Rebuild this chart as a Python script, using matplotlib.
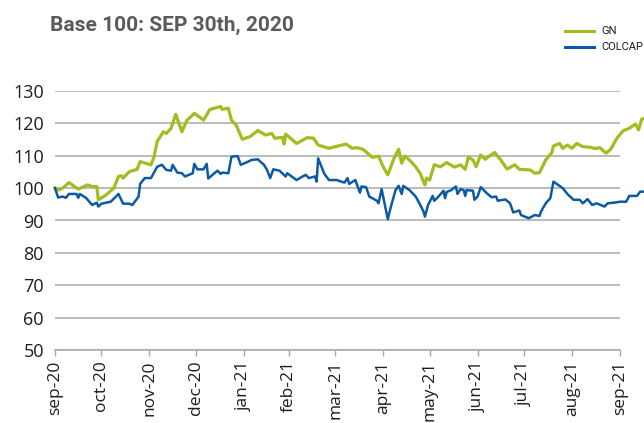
import numpy as np
import pandas as pd
import matplotlib
matplotlib.use("Agg")
import matplotlib.pyplot as plt
from matplotlib import font_manager
from matplotlib.lines import Line2D

# ---------------- data ----------------
base_date = "2020-09-30"

gn_days = [0, 2, 5, 9, 15, 21, 24, 27, 28, 33, 38, 41, 43, 44, 48, 53, 55, 57, 62, 64,
           66, 70, 72, 75, 78, 82, 85, 90, 96, 100, 107, 108, 112, 114, 117, 121, 126,
           131, 136, 140, 142, 147, 148, 149, 156, 158, 163, 167, 170, 177, 181, 188,
           192, 195, 199, 205, 209, 212, 215, 219, 222, 224, 226, 229, 233, 236, 238,
           239, 240, 242, 245, 249, 253, 258, 262, 265, 267, 270, 272, 275, 278, 280,
           284, 288, 292, 297, 300, 307, 310, 313, 317, 321, 322, 326, 328, 331, 334,
           337, 341, 346, 349, 352, 356, 359, 363, 367, 371, 375, 377, 379, 381]
gn_vals = [100.0, 99.4, 100.0, 101.7, 99.7, 101.0, 100.5, 100.5, 96.4, 97.9, 100.0, 103.6,
           103.8, 103.1, 105.1, 105.8, 108.2, 107.9, 107.2, 109.7, 114.4, 117.4, 116.9,
           118.5, 122.8, 117.4, 120.8, 123.1, 121.0, 124.3, 125.2, 124.3, 124.7, 121.0,
           119.5, 115.1, 115.9, 117.8, 116.4, 116.9, 115.4, 115.7, 113.6, 116.7, 113.8,
           114.3, 115.6, 115.4, 113.3, 112.3, 112.8, 113.6, 112.3, 112.5, 112.0, 109.5,
           109.9, 106.6, 104.1, 109.2, 112.0, 107.7, 109.9, 108.7, 106.6, 104.5, 102.0,
           101.0, 103.1, 102.5, 107.2, 106.6, 107.9, 106.5, 107.2, 105.8, 109.5, 108.7,
           106.6, 110.2, 108.9, 109.7, 111.0, 108.7, 105.9, 107.2, 105.8, 105.6, 104.6,
           104.8, 108.7, 111.0, 113.0, 113.8, 112.3, 113.3, 112.3, 113.8, 112.8, 112.6,
           112.2, 112.5, 110.8, 112.0, 115.4, 117.7, 118.5, 119.8, 118.0, 121.3, 121.6]

colcap_days = [0, 2, 5, 7, 9, 14, 15, 16, 20, 24, 27, 28, 30, 36, 41, 44, 48, 50, 54, 55,
               58, 62, 66, 69, 72, 75, 76, 79, 82, 84, 89, 90, 92, 96, 98, 99, 102, 105,
               107, 108, 112, 114, 118, 120, 123, 127, 131, 135, 137, 139, 141, 145, 149,
               150, 156, 160, 162, 164, 168, 169, 170, 174, 177, 182, 187, 189, 190, 194,
               197, 198, 201, 203, 208, 209, 211, 215, 217, 220, 222, 224, 225, 229, 233,
               236, 238, 239, 241, 244, 245, 247, 251, 252, 253, 256, 259, 260, 262, 264,
               265, 266, 270, 271, 273, 275, 279, 282, 285, 286, 291, 294, 296, 298, 300,
               301, 306, 310, 313, 314, 317, 320, 322, 325, 328, 331, 335, 339, 341, 344,
               347, 350, 355, 357, 361, 365, 369, 371, 376, 378, 381]
colcap_vals = [100.0, 97.1, 97.4, 97.0, 98.2, 98.2, 97.0, 98.2, 97.0, 94.8, 95.5, 94.3,
               95.2, 95.8, 98.2, 95.2, 95.2, 94.8, 97.4, 101.3, 103.1, 103.1, 106.6, 107.2,
               105.6, 105.4, 107.2, 104.8, 104.6, 103.6, 104.6, 107.5, 105.8, 105.8, 107.5,
               103.0, 104.2, 105.4, 104.4, 104.8, 104.6, 109.7, 109.9, 107.2, 107.8, 108.7,
               108.9, 107.2, 105.6, 103.1, 105.8, 105.4, 103.6, 104.6, 102.5, 103.6, 104.1,
               103.1, 103.6, 102.0, 109.2, 104.4, 102.5, 102.5, 101.7, 103.1, 101.3, 102.5,
               98.6, 100.5, 100.3, 97.4, 96.1, 95.3, 99.7, 90.4, 94.3, 99.4, 100.7, 98.2,
               100.7, 99.4, 97.4, 94.8, 92.8, 91.2, 94.8, 97.6, 96.1, 97.0, 99.2, 96.9,
               98.8, 99.4, 100.5, 98.2, 99.7, 99.4, 97.6, 99.4, 99.2, 96.4, 97.4, 100.3,
               98.4, 97.2, 97.4, 96.1, 96.5, 95.3, 92.5, 92.8, 93.1, 91.7, 90.7, 91.7, 91.4,
               92.8, 95.3, 96.9, 102.0, 101.0, 100.0, 98.2, 96.4, 96.4, 95.3, 96.6, 94.8,
               95.3, 94.3, 95.3, 95.5, 95.8, 95.8, 97.6, 97.6, 98.9, 98.9]

tick_dates = ["2020-09-30", "2020-10-30", "2020-11-30", "2020-12-30", "2021-01-30",
              "2021-02-28", "2021-03-30", "2021-04-30", "2021-05-30", "2021-06-30",
              "2021-07-30", "2021-08-30", "2021-09-30"]
tick_labels = ["sep-20", "oct-20", "nov-20", "dec-20", "jan-21", "feb-21", "mar-21",
               "apr-21", "may-21", "jun-21", "jul-21", "aug-21", "sep-21"]
y_ticks = [50, 60, 70, 80, 90, 100, 110, 120, 130]

series_names = ["GN", "COLCAP"]
title_text = "Base 100: SEP 30th, 2020"

# ---------------- styling ----------------
GREEN = "#a1bd1f"
BLUE = "#0b5aa3"
GRID = "#a8a8a8"

available = {f.name for f in font_manager.fontManager.ttflist}
narrow = "Liberation Sans Narrow" if "Liberation Sans Narrow" in available else "Roboto"
body = "Open Sans" if "Open Sans" in available else "DejaVu Sans"

plt.rcParams["font.family"] = [body, "DejaVu Sans"]

W, H = 644, 423
fig = plt.figure(figsize=(W / 100, H / 100), dpi=100)
ax = fig.add_axes([55 / W, 1 - 350 / H, (620 - 55) / W, (350 - 91) / H])

base = pd.Timestamp(base_date)
gn_x = base + pd.to_timedelta(gn_days, unit="D")
co_x = base + pd.to_timedelta(colcap_days, unit="D")

ax.plot(gn_x, gn_vals, color=GREEN, lw=2.3, clip_on=False, zorder=3,
        solid_joinstyle="round")
ax.plot(co_x, colcap_vals, color=BLUE, lw=1.8, clip_on=False, zorder=4,
        solid_joinstyle="round")

ticks = pd.to_datetime(tick_dates)
ax.set_xlim(ticks[0], ticks[-1])
ax.set_ylim(50, 130)
ax.set_yticks(y_ticks)
ax.set_xticks(ticks)
ax.set_xticklabels(tick_labels, rotation=90, va="top", ha="center")

ax.grid(axis="y", color=GRID, lw=1.1)
ax.grid(axis="x", visible=False)
ax.set_axisbelow(True)
for s in ["top", "right", "left"]:
    ax.spines[s].set_visible(False)
ax.spines["bottom"].set_color(GRID)
ax.spines["bottom"].set_linewidth(1.1)

ax.tick_params(axis="y", length=0, pad=8, labelsize=13, labelcolor="#1e1e1e")
ax.tick_params(axis="x", length=4.5, width=1.0, color=GRID, pad=3,
               labelsize=12.5, labelcolor="#1e1e1e")

# title
fig.text(50 / W, 1 - 25 / H, title_text, fontsize=15, fontweight="bold",
         color="#5a5a5a", family=[narrow, "DejaVu Sans"], va="center", ha="left")

# legend
for i, (name, col) in enumerate(zip(series_names, [GREEN, BLUE])):
    yy = 1 - (31 + 16 * i) / H
    fig.add_artist(Line2D([565 / W, 594 / W], [yy, yy], color=col, lw=2.2,
                          transform=fig.transFigure))
    fig.text(601 / W, yy, name, fontsize=8, color="#1e1e1e",
             family=[narrow, "DejaVu Sans"], va="center", ha="left")

fig.savefig("out.png", dpi=100)
